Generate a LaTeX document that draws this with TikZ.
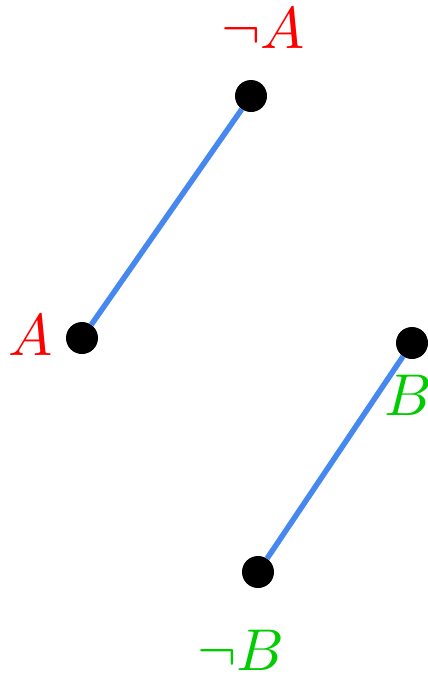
\documentclass[tikz,border=0pt]{standalone}
\usepackage{graphicx}
\definecolor{lblred}{RGB}{255,0,0}
\definecolor{lblgreen}{RGB}{0,204,0}
\definecolor{edgeblue}{RGB}{70,136,240}
\newcommand{\biglbl}[1]{\scalebox{5.9}{$#1$}}
\begin{document}
\begin{tikzpicture}[x=1pt,y=-1pt,
  dot/.style={circle,fill=black,inner sep=0pt,minimum size=32pt},
  lbl/.style={inner sep=0pt,anchor=base},
  edge/.style={draw=edgeblue,line width=5.5pt}]
\useasboundingbox (0,0) rectangle (428,675);
\node[dot] (A) at (82,338) {};
\node[dot] (nA) at (251,96) {};
\node[dot] (B) at (412,343) {};
\node[dot] (nB) at (258,572) {};
\draw[edge] (A) -- (nA);
\draw[edge] (B) -- (nB);
\node[lbl,text=lblred] (lA) at (31,355) {\biglbl{A}};
\node[lbl,text=lblred] (lnA) at (263,48) {\biglbl{\neg A}};
\node[lbl,text=lblgreen] (lB) at (408,415) {\biglbl{B}};
\node[lbl,text=lblgreen] (lnB) at (241,670) {\biglbl{\neg B}};
\end{tikzpicture}
\end{document}
